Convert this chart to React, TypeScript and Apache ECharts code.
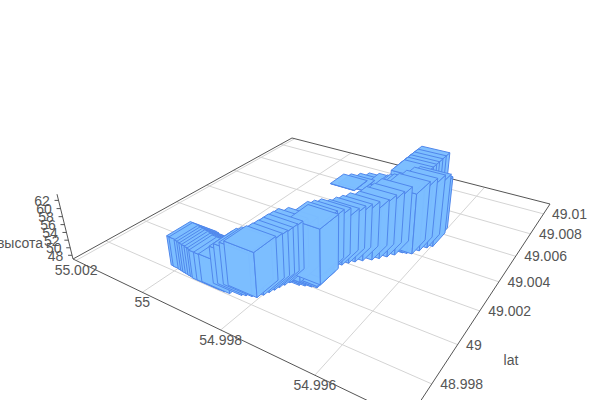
import React, { useEffect, useRef } from "react";
import * as echarts from "echarts";

const lons = [
  54.99985, 54.99978, 54.99962, 54.99954, 54.99947, 54.99939, 54.99931, 54.99923, 54.99916, 54.99904, 54.99892, 54.99869, 54.99861, 54.9985, 54.9984,
  54.99834, 54.9983, 54.99826, 54.99823, 54.99819, 54.99815, 54.99799, 54.99761,
  54.99795, 54.99784, 54.99772, 54.99761,
  54.99776, 54.99772, 54.99768, 54.99761, 54.99753, 54.99744, 54.99733, 54.99718, 54.99708, 54.99697, 54.99687, 54.99676, 54.99668, 54.99658, 54.9965, 54.99641, 54.99633, 54.99637,
  54.99692, 54.99692, 54.99692, 54.99692, 54.99692, 54.99692,
  54.99745, 54.9973, 54.99718,
  54.99908, 54.99892, 54.99873, 54.99854, 54.9983, 54.99807, 54.99784, 54.99761,
];
const lats = [
  48.99884, 48.99882, 48.99879, 48.99877, 48.99875, 48.99873, 48.99871, 48.99869, 48.99866, 48.99867, 48.99869, 48.99884, 48.99891, 48.99899, 48.99904,
  48.99928, 48.99951, 48.99973, 48.99995, 49.00017, 49.00039, 49.00061, 49.00089,
  49.00045, 49.00053, 49.00061, 49.00067,
  49.00126, 49.00162, 49.00199, 49.0024, 49.00265, 49.00286, 49.00309, 49.00333, 49.00357, 49.00384, 49.00412, 49.00443, 49.00448, 49.00456, 49.00492, 49.00529, 49.00551, 49.00595,
  49.0081, 49.00771, 49.00734, 49.00698, 49.00668, 49.00635,
  49.00844, 49.008, 49.00756,
  49.008, 49.00822, 49.00852, 49.00881, 49.00903, 49.0091, 49.00903, 49.00881,
];
const heights = [
  54.6, 54.6, 54.5, 54.5, 54.4, 54.4, 54.3, 54.2, 54.1, 54, 54, 56.3, 57, 57.5, 58,
  58.2, 58.4, 58.6, 58.9, 59.1, 59.3, 59.5, 60.7,
  47.4, 47.4, 47.4, 47.4,
  60, 59.5, 59, 58, 58.2, 58.4, 58.8, 59.1, 60, 60.5, 61.3, 62, 62.2, 62.4, 62.6, 62.8, 62.7, 60.9,
  61, 61, 61, 61, 61, 61,
  50, 54, 57,
  47.1, 47.1, 47.1, 47.1, 47.1, 47.1, 47.1, 47.1,
];
const lonTicks = [55.002, 55, 54.998, 54.996];
const latTicks = [48.998, 49, 49.002, 49.004, 49.006, 49.008, 49.01];
const zTicks = [48, 50, 52, 54, 56, 58, 60, 62];

const lonMax = 55.0021, lonSpan = 0.00775, latMin = 48.99642, latSpan = 0.01466, zMin = 47, zSpan = 16.5;
const halfLon = 0.00036, halfLat = 0.00062;

function uvt(lon: number, lat: number, z: number) {
  return [(lonMax - lon) / lonSpan, (lat - latMin) / latSpan, (z - zMin) / zSpan];
}
function project(lon: number, lat: number, z: number): [number, number] {
  const [u, v, t] = uvt(lon, lat, z);
  const w = 1 - 0.2984 * u + 0.4627 * v - 0.0586 * t;
  return [
    (213.3 * u + 354.1 * v + 73 - 19.34 * t) / w,
    (35.67 * u - 57.15 * v + 259 - 76.2 * t) / w,
  ];
}
const lonA = lonMax, lonB = lonMax - lonSpan, latA = latMin, latB = latMin + latSpan;

function depth(i: number) {
  const [u, v] = uvt(lons[i], lats[i], zMin);
  return -0.2984 * u + 0.4627 * v + (heights[i] < 48 ? 10 : 0);
}
const barData = lons
  .map((_, i) => i)
  .sort((a, b) => depth(b) - depth(a))
  .map((i) => [lons[i], lats[i], heights[i]]);

const FILL = "rgba(124,189,255,0.96)";
const EDGE = "#5087ec";

function renderBar(_params: any, api: any) {
  const lon = api.value(0), lat = api.value(1), h = api.value(2);
  const uMin = lon + halfLon, uMax = lon - halfLon, vMin = lat - halfLat, vMax = lat + halfLat;
  const poly = (pts: [number, number, number][]) => ({
    type: "polygon",
    shape: { points: pts.map((p) => project(p[0], p[1], p[2])) },
    style: { fill: FILL, stroke: EDGE, lineWidth: 1 },
    silent: true,
  });
  return {
    type: "group",
    children: [
      poly([[uMin, vMin, zMin], [uMax, vMin, zMin], [uMax, vMin, h], [uMin, vMin, h]]),
      poly([[uMax, vMin, zMin], [uMax, vMax, zMin], [uMax, vMax, h], [uMax, vMin, h]]),
      poly([[uMin, vMin, h], [uMax, vMin, h], [uMax, vMax, h], [uMin, vMax, h]]),
    ],
  };
}

function line(a: [number, number], b: [number, number], stroke: string) {
  return {
    type: "line",
    z: 0,
    silent: true,
    shape: { x1: a[0], y1: a[1], x2: b[0], y2: b[1] },
    style: { stroke, lineWidth: 1 },
  };
}
function label(text: string, x: number, y: number, align: string) {
  return {
    type: "text",
    z: 1,
    silent: true,
    x,
    y,
    style: {
      text,
      fill: "#555",
      font: '14px "Liberation Sans", Arial, sans-serif',
      align,
      verticalAlign: "middle",
    },
  };
}

function buildGraphics() {
  const out: any[] = [];
  const GRID = "#d4d4d4", AXIS = "#555";
  lonTicks.forEach((t) => out.push(line(project(t, latA, zMin), project(t, latB, zMin), GRID)));
  latTicks.forEach((t) => out.push(line(project(lonA, t, zMin), project(lonB, t, zMin), GRID)));
  const A = project(lonA, latA, zMin), B = project(lonA, latB, zMin), C = project(lonB, latA, zMin), D = project(lonB, latB, zMin);
  out.push(line(A, B, AXIS), line(B, D, AXIS), line(D, C, AXIS), line(C, A, AXIS));
  out.push(line(A, project(lonA, latA, zMin + zSpan), AXIS));
  zTicks.forEach((t) => {
    const p = project(lonA, latA, t);
    out.push(line(p, [p[0] - 4, p[1]], AXIS));
    out.push(label(String(t), p[0] - 16.5, p[1] + 0.5, "center"));
  });
  lonTicks.forEach((t) => {
    const p = project(t, latA, zMin);
    out.push(label(String(t), p[0], p[1] + 10, "center"));
  });
  latTicks.forEach((t) => {
    const p = project(lonB, t, zMin);
    out.push(label(String(t), p[0] + 8.5, p[1], "left"));
  });
  out.push(label("высота", 20, 243, "center"));
  out.push(label("lat", 511, 360, "center"));
  return out;
}

export default function App() {
  const ref = useRef<HTMLDivElement>(null);
  useEffect(() => {
    const chart = echarts.init(ref.current!, undefined, { renderer: "svg" });
    chart.setOption({
      animation: false,
      graphic: { elements: buildGraphics() },
      series: [
        {
          type: "custom",
          coordinateSystem: "none",
          renderItem: renderBar,
          data: barData,
          z: 5,
          silent: true,
          clip: false,
        },
      ],
    });
    return () => chart.dispose();
  }, []);
  return <div ref={ref} style={{ position: "fixed", left: 0, top: 0, width: 600, height: 400, background: "#fff" }} />;
}
